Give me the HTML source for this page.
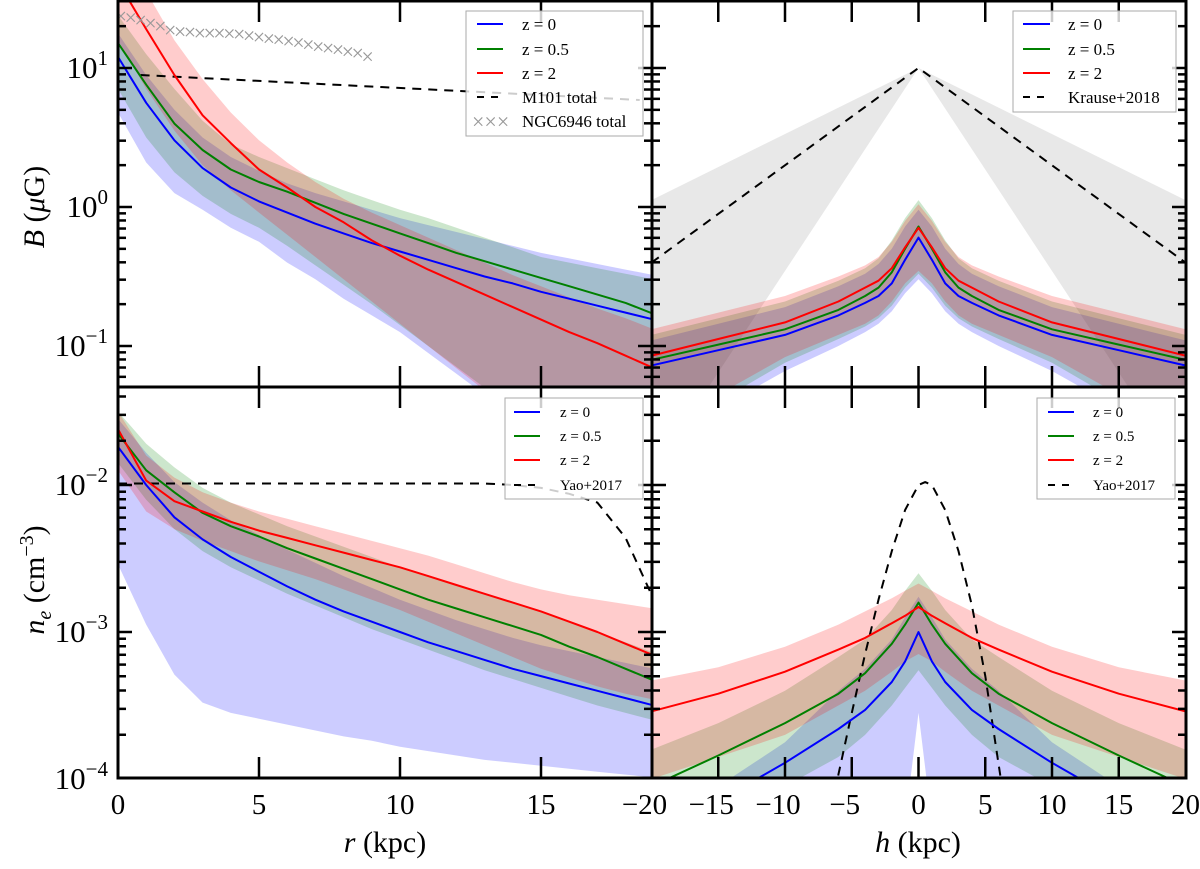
<!DOCTYPE html>
<html><head><meta charset="utf-8"><style>
html,body{margin:0;padding:0;background:#fff;}
svg{display:block;font-family:"Liberation Serif",serif;}
</style></head><body>
<svg id="fig" width="1200" height="869" viewBox="0 0 1200 869" xmlns="http://www.w3.org/2000/svg">
<defs>
<clipPath id="cTL"><rect x="118" y="1" width="534" height="386"/></clipPath>
<clipPath id="cTR"><rect x="652" y="1" width="534" height="386"/></clipPath>
<clipPath id="cBL"><rect x="118" y="387" width="534" height="391"/></clipPath>
<clipPath id="cBR"><rect x="652" y="387" width="534" height="391"/></clipPath>
</defs>
<g id="gTL" clip-path="url(#cTL)"></g>
<g id="gTR" clip-path="url(#cTR)"></g>
<g id="gBL" clip-path="url(#cBL)"></g>
<g id="gBR" clip-path="url(#cBR)"></g>
<g id="ticks"></g>
<g fill="none" stroke="#000" stroke-width="3">
<rect x="118" y="1" width="1068" height="777"/>
<line x1="652" y1="1" x2="652" y2="778"/>
<line x1="118" y1="387" x2="1186" y2="387"/>
</g>
<g id="labels" font-size="27" fill="#000"></g>
<g>
<rect x="466" y="11" width="177" height="125" fill="#fff" fill-opacity="0.8" stroke="#aaa"/>
<line x1="477" y1="24" x2="503" y2="24" stroke="#00f" stroke-width="2"/><text x="522" y="30" font-size="17">z = 0</text>
<line x1="477" y1="49" x2="503" y2="49" stroke="#008000" stroke-width="2"/><text x="522" y="55" font-size="17">z = 0.5</text>
<line x1="477" y1="73" x2="503" y2="73" stroke="#f00" stroke-width="2"/><text x="522" y="79" font-size="17">z = 2</text>
<line x1="477" y1="97" x2="503" y2="97" stroke="#000" stroke-width="2" stroke-dasharray="7,7"/><text x="522" y="103" font-size="17">M101 total</text>
<text x="472" y="129" font-size="22" fill="#999">×××</text><text x="522" y="127" font-size="17">NGC6946 total</text>
</g>
<g>
<rect x="1013" y="11" width="163" height="101" fill="#fff" fill-opacity="0.8" stroke="#aaa"/>
<line x1="1023" y1="24" x2="1050" y2="24" stroke="#00f" stroke-width="2"/><text x="1068" y="30" font-size="17">z = 0</text>
<line x1="1023" y1="49" x2="1050" y2="49" stroke="#008000" stroke-width="2"/><text x="1068" y="55" font-size="17">z = 0.5</text>
<line x1="1023" y1="73" x2="1050" y2="73" stroke="#f00" stroke-width="2"/><text x="1068" y="79" font-size="17">z = 2</text>
<line x1="1023" y1="97" x2="1050" y2="97" stroke="#000" stroke-width="2" stroke-dasharray="7,7"/><text x="1068" y="103" font-size="17">Krause+2018</text>
</g>
<g>
<rect x="505" y="398" width="138" height="101" fill="#fff" fill-opacity="0.8" stroke="#aaa"/>
<line x1="514" y1="412" x2="540" y2="412" stroke="#00f" stroke-width="2"/><text x="560" y="417" font-size="15">z = 0</text>
<line x1="514" y1="436" x2="540" y2="436" stroke="#008000" stroke-width="2"/><text x="560" y="441" font-size="15">z = 0.5</text>
<line x1="514" y1="460" x2="540" y2="460" stroke="#f00" stroke-width="2"/><text x="560" y="465" font-size="15">z = 2</text>
<line x1="514" y1="485" x2="540" y2="485" stroke="#000" stroke-width="2" stroke-dasharray="7,7"/><text x="560" y="490" font-size="15">Yao+2017</text>
</g>
<g>
<rect x="1037" y="398" width="138" height="101" fill="#fff" fill-opacity="0.8" stroke="#aaa"/>
<line x1="1048" y1="412" x2="1074" y2="412" stroke="#00f" stroke-width="2"/><text x="1093" y="417" font-size="15">z = 0</text>
<line x1="1048" y1="436" x2="1074" y2="436" stroke="#008000" stroke-width="2"/><text x="1093" y="441" font-size="15">z = 0.5</text>
<line x1="1048" y1="460" x2="1074" y2="460" stroke="#f00" stroke-width="2"/><text x="1093" y="465" font-size="15">z = 2</text>
<line x1="1048" y1="485" x2="1074" y2="485" stroke="#000" stroke-width="2" stroke-dasharray="7,7"/><text x="1093" y="490" font-size="15">Yao+2017</text>
</g>
</svg>
<script>
// ---- data (log10 values) ----
const rGrid = [0,1,2,3,4,5,6,7,8,9,10,11,12,13,14,15,16,17,18,19];
const bR_z0 = [1.08,0.75,0.48,0.28,0.14,0.04,-0.04,-0.12,-0.19,-0.26,-0.32,-0.38,-0.44,-0.50,-0.55,-0.61,-0.66,-0.71,-0.76,-0.81];
const bR_z05 = [1.18,0.88,0.60,0.41,0.27,0.18,0.11,0.03,-0.05,-0.12,-0.19,-0.26,-0.33,-0.39,-0.45,-0.51,-0.57,-0.63,-0.69,-0.77];
const bR_z2 = [1.62,1.28,0.95,0.66,0.46,0.27,0.14,0.0,-0.11,-0.24,-0.35,-0.45,-0.54,-0.63,-0.72,-0.81,-0.90,-0.98,-1.07,-1.16];
const bR_z0_hi = [1.25,0.95,0.70,0.50,0.36,0.26,0.17,0.10,0.04,-0.02,-0.08,-0.13,-0.18,-0.23,-0.28,-0.33,-0.37,-0.41,-0.45,-0.49];
const bR_z0_lo = [0.68,0.32,0.10,-0.02,-0.15,-0.25,-0.40,-0.52,-0.66,-0.78,-0.90,-1.05,-1.20,-1.35,-1.50,-1.60,-1.70,-1.70,-1.70,-1.70];
const bR_z05_hi = [1.38,1.10,0.85,0.62,0.45,0.36,0.28,0.20,0.12,0.05,-0.02,-0.08,-0.15,-0.22,-0.29,-0.36,-0.40,-0.44,-0.48,-0.52];
const bR_z05_lo = [0.85,0.50,0.25,0.08,-0.05,-0.15,-0.28,-0.42,-0.56,-0.70,-0.85,-1.00,-1.15,-1.30,-1.50,-1.50,-1.50,-1.50,-1.50,-1.50];
const bR_z2_hi = [1.85,1.55,1.20,0.92,0.68,0.48,0.32,0.18,0.06,-0.04,-0.13,-0.22,-0.31,-0.40,-0.49,-0.57,-0.65,-0.73,-0.80,-0.88];
const bR_z2_lo = [1.20,0.85,0.55,0.30,0.12,-0.04,-0.20,-0.36,-0.52,-0.68,-0.84,-1.00,-1.16,-1.32,-1.50,-1.50,-1.50,-1.50,-1.50,-1.50];
const m101R = [0.8,18.5];
const m101B = [0.95,0.77];
const ngcR = [0.1,0.45,0.8,1.15,1.5,1.85,2.2,2.55,2.9,3.25,3.6,3.95,4.3,4.65,5.0,5.35,5.7,6.05,6.4,6.75,7.1,7.45,7.8,8.15,8.5,8.85];
const ngcB = [1.37,1.36,1.34,1.32,1.30,1.27,1.26,1.255,1.25,1.25,1.25,1.245,1.24,1.23,1.22,1.21,1.20,1.19,1.18,1.165,1.15,1.14,1.13,1.115,1.105,1.08];
const hB = [-20,-15,-10,-6,-4,-3,-2,-1,0,1,2,3,4,6,10,15,20];
const bH_z0 = [-1.14,-1.03,-0.92,-0.78,-0.69,-0.64,-0.55,-0.38,-0.22,-0.38,-0.55,-0.64,-0.69,-0.78,-0.92,-1.03,-1.14];
const bH_z05 = [-1.10,-0.99,-0.88,-0.74,-0.64,-0.58,-0.47,-0.30,-0.14,-0.30,-0.47,-0.58,-0.64,-0.74,-0.88,-0.99,-1.10];
const bH_z2 = [-1.07,-0.95,-0.83,-0.68,-0.58,-0.53,-0.44,-0.29,-0.15,-0.29,-0.44,-0.53,-0.58,-0.68,-0.83,-0.95,-1.07];
const bH_z0_hi = [-0.96,-0.84,-0.72,-0.57,-0.48,-0.41,-0.30,-0.14,-0.02,-0.14,-0.30,-0.41,-0.48,-0.57,-0.72,-0.84,-0.96];
const bH_z0_lo = [-1.60,-1.45,-1.18,-1.00,-0.90,-0.84,-0.75,-0.62,-0.52,-0.62,-0.75,-0.84,-0.90,-1.00,-1.18,-1.45,-1.60];
const bH_z05_hi = [-0.92,-0.80,-0.68,-0.53,-0.44,-0.37,-0.24,-0.08,0.05,-0.08,-0.24,-0.37,-0.44,-0.53,-0.68,-0.80,-0.92];
const bH_z05_lo = [-1.55,-1.40,-1.12,-0.95,-0.86,-0.80,-0.71,-0.58,-0.48,-0.58,-0.71,-0.80,-0.86,-0.95,-1.12,-1.40,-1.55];
const bH_z2_hi = [-0.88,-0.76,-0.64,-0.50,-0.42,-0.36,-0.25,-0.10,0.02,-0.10,-0.25,-0.36,-0.42,-0.50,-0.64,-0.76,-0.88];
const bH_z2_lo = [-1.50,-1.35,-1.08,-0.92,-0.84,-0.78,-0.68,-0.55,-0.46,-0.55,-0.68,-0.78,-0.84,-0.92,-1.08,-1.35,-1.50];
const krauseH = [-20,0,20];
const krauseB = [-0.40,1.0,-0.40];
const krauseHi = [0.05,1.0,0.05];
const krauseLo = [-1.92,1.0,-1.92];
const neR_z0 = [-1.74,-2.0,-2.22,-2.37,-2.49,-2.59,-2.69,-2.78,-2.86,-2.93,-3.0,-3.07,-3.13,-3.19,-3.25,-3.30,-3.35,-3.40,-3.45,-3.50];
const neR_z05 = [-1.65,-1.90,-2.05,-2.19,-2.28,-2.35,-2.43,-2.50,-2.57,-2.64,-2.71,-2.78,-2.84,-2.90,-2.96,-3.02,-3.10,-3.17,-3.25,-3.33];
const neR_z2 = [-1.62,-1.97,-2.11,-2.18,-2.25,-2.31,-2.36,-2.41,-2.46,-2.51,-2.56,-2.62,-2.68,-2.74,-2.80,-2.86,-2.93,-3.00,-3.08,-3.16];
const neR_z0_hi = [-1.55,-1.78,-1.98,-2.12,-2.24,-2.34,-2.44,-2.53,-2.62,-2.70,-2.78,-2.85,-2.92,-2.98,-3.04,-3.09,-3.13,-3.17,-3.21,-3.25];
const neR_z0_lo = [-2.54,-2.95,-3.29,-3.48,-3.55,-3.59,-3.63,-3.67,-3.71,-3.74,-3.78,-3.81,-3.84,-3.87,-3.89,-3.91,-3.93,-3.95,-3.97,-3.99];
const neR_z05_hi = [-1.50,-1.72,-1.88,-2.02,-2.12,-2.20,-2.28,-2.35,-2.42,-2.49,-2.56,-2.62,-2.68,-2.74,-2.80,-2.86,-2.93,-3.00,-3.07,-3.14];
const neR_z05_lo = [-1.85,-2.10,-2.30,-2.45,-2.56,-2.65,-2.74,-2.82,-2.90,-2.98,-3.05,-3.12,-3.19,-3.26,-3.32,-3.38,-3.44,-3.50,-3.55,-3.60];
const neR_z2_hi = [-1.50,-1.80,-1.95,-2.05,-2.12,-2.18,-2.23,-2.28,-2.33,-2.38,-2.43,-2.48,-2.54,-2.60,-2.66,-2.71,-2.75,-2.78,-2.81,-2.84];
const neR_z2_lo = [-1.90,-2.18,-2.30,-2.38,-2.45,-2.52,-2.58,-2.64,-2.71,-2.78,-2.85,-2.93,-3.01,-3.09,-3.17,-3.25,-3.31,-3.37,-3.42,-3.46];
const yaoR = [-1.99,-1.99,-1.99,-1.99,-1.99,-1.99,-1.99,-1.99,-1.99,-1.99,-1.99,-1.99,-1.99,-1.99,-2.0,-2.02,-2.06,-2.12,-2.36,-2.78];
const hN = [-20,-15,-10,-6,-4,-2,-1,0,1,2,4,6,10,15,20];
const neH_z0 = [-4.3,-4.15,-3.89,-3.66,-3.53,-3.34,-3.2,-3.0,-3.2,-3.34,-3.53,-3.66,-3.89,-4.15,-4.3];
const neH_z05 = [-4.05,-3.84,-3.62,-3.42,-3.28,-3.08,-2.95,-2.80,-2.95,-3.08,-3.28,-3.42,-3.62,-3.84,-4.05];
const neH_z2 = [-3.54,-3.42,-3.27,-3.12,-3.04,-2.94,-2.89,-2.83,-2.89,-2.94,-3.04,-3.12,-3.27,-3.42,-3.54];
const neH_z0_hi = [-4.2,-4.05,-3.75,-3.4,-3.25,-3.05,-2.9,-2.76,-2.9,-3.05,-3.25,-3.4,-3.75,-4.05,-4.2];
const neH_z0_lo = [-4.8,-4.8,-4.8,-4.7,-4.6,-4.5,-4.3,-3.55,-4.3,-4.5,-4.6,-4.7,-4.8,-4.8,-4.8];
const neH_z05_hi = [-3.80,-3.62,-3.40,-3.17,-3.05,-2.85,-2.72,-2.60,-2.72,-2.85,-3.05,-3.17,-3.40,-3.62,-3.80];
const neH_z05_lo = [-4.5,-4.3,-4.05,-3.85,-3.7,-3.5,-3.38,-3.26,-3.38,-3.5,-3.7,-3.85,-4.05,-4.3,-4.5];
const neH_z2_hi = [-3.33,-3.24,-3.10,-2.95,-2.86,-2.77,-2.72,-2.67,-2.72,-2.77,-2.86,-2.95,-3.10,-3.24,-3.33];
const neH_z2_lo = [-4.0,-3.85,-3.7,-3.5,-3.4,-3.27,-3.2,-3.15,-3.2,-3.27,-3.4,-3.5,-3.7,-3.85,-4.0];
const yaoH = [-6.5,-6,-5,-4,-3,-2,-1,0,0.5,1,2,3,4,5,6,6.5];
const yaoNe = [-4.3,-3.97,-3.55,-3.15,-2.78,-2.45,-2.17,-2.0,-1.98,-2.0,-2.17,-2.45,-2.82,-3.3,-3.9,-4.2];
const rTicks = [0,5,10,15];
const hTicks = [-20,-15,-10,-5,0,5,10,15,20];
const bDecades = [-1,0,1];
const neDecades = [-4,-3,-2];

const NS='http://www.w3.org/2000/svg';
const xR = r => 118 + r*28.2;
const xH = h => 918.5 + h*13.35;
const yB = l => 207 - l*139;
const yN = l => 632 - (l+3)*147;
function mk(tag, attrs, parent){const e=document.createElementNS(NS,tag);for(const k in attrs)e.setAttribute(k,attrs[k]);parent.appendChild(e);return e;}
function linePath(xs, ys, fx, fy){return xs.map((x,i)=>(i?'L':'M')+fx(x).toFixed(1)+','+fy(ys[i]).toFixed(1)).join('');}
function bandPath(xs, hi, lo, fx, fy){let d=linePath(xs,hi,fx,fy);for(let i=xs.length-1;i>=0;i--)d+='L'+fx(xs[i]).toFixed(1)+','+fy(lo[i]).toFixed(1);return d+'Z';}
const COL={z0:'#0000ff',z05:'#008000',z2:'#ff0000'};
const BAND={z0:'rgba(0,0,255,0.2)',z05:'rgba(0,128,0,0.2)',z2:'rgba(255,0,0,0.2)'};
function band(g,xs,hi,lo,fx,fy,key,name){
  const p=mk('path',{d:bandPath(xs,hi,lo,fx,fy),fill:BAND[key],stroke:'none'},g);
  
  
}
function line(g,xs,ys,fx,fy,color,name,dash){
  const p=mk('path',{d:linePath(xs,ys,fx,fy),fill:'none',stroke:color,'stroke-width':2,'stroke-linejoin':'round'},g);
  if(dash)p.setAttribute('stroke-dasharray',dash);
  
  
}
const gTL=document.getElementById('gTL');
band(gTL,rGrid,bR_z0_hi,bR_z0_lo,xR,yB,'z0','band-b-r-z0');
band(gTL,rGrid,bR_z05_hi,bR_z05_lo,xR,yB,'z05','band-b-r-z05');
band(gTL,rGrid,bR_z2_hi,bR_z2_lo,xR,yB,'z2','band-b-r-z2');
line(gTL,m101R,m101B,xR,yB,'#000','m101-total-line','9,7');
line(gTL,rGrid,bR_z0,xR,yB,COL.z0,'line-b-r-z0');
line(gTL,rGrid,bR_z05,xR,yB,COL.z05,'line-b-r-z05');
line(gTL,rGrid,bR_z2,xR,yB,COL.z2,'line-b-r-z2');
ngcR.forEach((r,i)=>{
  const t=mk('text',{x:xR(r),y:yB(ngcB[i])+7,'text-anchor':'middle','font-size':22,fill:'#999'},gTL);
  t.textContent='×';
  
  
});
const gTR=document.getElementById('gTR');
const kb=mk('path',{d:bandPath(krauseH,krauseHi,krauseLo,xH,yB),fill:'#e8e8e8',stroke:'none'},gTR);


band(gTR,hB,bH_z0_hi,bH_z0_lo,xH,yB,'z0','band-b-h-z0');
band(gTR,hB,bH_z05_hi,bH_z05_lo,xH,yB,'z05','band-b-h-z05');
band(gTR,hB,bH_z2_hi,bH_z2_lo,xH,yB,'z2','band-b-h-z2');
line(gTR,krauseH,krauseB,xH,yB,'#000','krause-line','9,7');
line(gTR,hB,bH_z0,xH,yB,COL.z0,'line-b-h-z0');
line(gTR,hB,bH_z05,xH,yB,COL.z05,'line-b-h-z05');
line(gTR,hB,bH_z2,xH,yB,COL.z2,'line-b-h-z2');
const gBL=document.getElementById('gBL');
band(gBL,rGrid,neR_z0_hi,neR_z0_lo,xR,yN,'z0','band-ne-r-z0');
band(gBL,rGrid,neR_z05_hi,neR_z05_lo,xR,yN,'z05','band-ne-r-z05');
band(gBL,rGrid,neR_z2_hi,neR_z2_lo,xR,yN,'z2','band-ne-r-z2');
line(gBL,rGrid,yaoR,xR,yN,'#000','yao-r-line','9,7');
line(gBL,rGrid,neR_z0,xR,yN,COL.z0,'line-ne-r-z0');
line(gBL,rGrid,neR_z05,xR,yN,COL.z05,'line-ne-r-z05');
line(gBL,rGrid,neR_z2,xR,yN,COL.z2,'line-ne-r-z2');
const gBR=document.getElementById('gBR');
band(gBR,hN,neH_z0_hi,neH_z0_lo,xH,yN,'z0','band-ne-h-z0');
band(gBR,hN,neH_z05_hi,neH_z05_lo,xH,yN,'z05','band-ne-h-z05');
band(gBR,hN,neH_z2_hi,neH_z2_lo,xH,yN,'z2','band-ne-h-z2');
line(gBR,yaoH,yaoNe,xH,yN,'#000','yao-h-line','9,7');
line(gBR,hN,neH_z0,xH,yN,COL.z0,'line-ne-h-z0');
line(gBR,hN,neH_z05,xH,yN,COL.z05,'line-ne-h-z05');
line(gBR,hN,neH_z2,xH,yN,COL.z2,'line-ne-h-z2');

const tg=document.getElementById('ticks');
function tk(x1,y1,x2,y2){return mk('line',{x1,y1,x2,y2,stroke:'#000','stroke-width':2.5},tg);}
function yTicks(decs,fy,top,bot){
  for(let d=decs[0]-1; d<=decs[decs.length-1]+1; d++){
    for(let m=1;m<10;m++){
      const y=fy(d+Math.log10(m));
      if(y<top+2||y>bot-2)continue;
      const L=m===1?14:8;
      tk(118,y,118+L,y);tk(652-L,y,652+L,y);tk(1186-L,y,1186,y);
    }
  }
}
yTicks(bDecades,yB,1,387);
yTicks(neDecades,yN,387,778);
rTicks.forEach(r=>{if(r===0)return;const x=xR(r);tk(x,1,x,22);tk(x,366,x,408);tk(x,757,x,778);});
hTicks.forEach(h=>{if(Math.abs(h)===20)return;const x=xH(h);tk(x,1,x,22);tk(x,366,x,408);tk(x,757,x,778);});

const lg=document.getElementById('labels');
function txt(x,y,s,anchor,name,size){const t=mk('text',{x,y,'text-anchor':anchor||'middle'},lg);if(size)t.setAttribute('font-size',size);t.textContent=s;
  
  
  return t;}
rTicks.forEach(r=>txt(xR(r),814,String(r),'middle','x-tick-r',29));
hTicks.forEach(h=>txt(xH(h)+(h<0?-7:0),814,(h<0?'\u2212':'')+Math.abs(h),'middle','x-tick-h',29));
function ylab(l,y){
  const t=mk('text',{x:108,y:y+10,'text-anchor':'end','font-size':31},lg);
  
  
  const a=document.createElementNS(NS,'tspan');a.textContent='10';t.appendChild(a);
  const b=document.createElementNS(NS,'tspan');b.setAttribute('font-size','21');b.setAttribute('dy','-13');b.textContent=(l<0?'\u2212':'')+Math.abs(l);t.appendChild(b);
}
bDecades.forEach(l=>ylab(l,yB(l)));
neDecades.forEach(l=>ylab(l,yN(l)));
const xt1=txt(385,852,'','middle','x-axis-title-r',30);xt1.innerHTML='<tspan font-style="italic">r</tspan> (kpc)';
const xt2=txt(918,852,'','middle','x-axis-title-h',30);xt2.innerHTML='<tspan font-style="italic">h</tspan> (kpc)';
const yt1=txt(0,0,'','middle','y-axis-title-b',30);yt1.setAttribute('transform','translate(44,207) rotate(-90)');yt1.innerHTML='<tspan font-style="italic">B</tspan> (<tspan font-style="italic">μ</tspan>G)';
const yt2=txt(0,0,'','middle','y-axis-title-ne',30);yt2.setAttribute('transform','translate(44,580) rotate(-90)');yt2.innerHTML='<tspan font-style="italic">n</tspan><tspan font-style="italic" font-size="20" dy="7">e</tspan><tspan dy="-7"> (cm</tspan><tspan font-size="20" dy="-11">\u22123</tspan><tspan dy="11">)</tspan>';
</script>
</body></html>
